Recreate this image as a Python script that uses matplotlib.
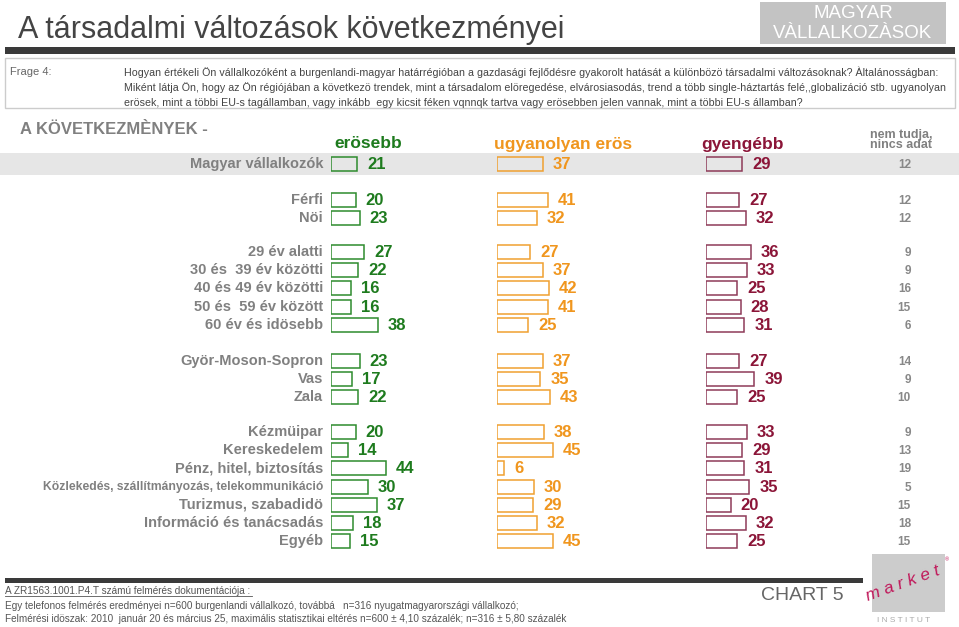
import matplotlib
matplotlib.use("Agg")
import matplotlib.pyplot as plt
from matplotlib.patches import Rectangle

plt.rcParams['font.family'] = ['Liberation Sans', 'DejaVu Sans']

# ---------------- adatok ----------------
labels = ["Magyar vállalkozók",
          "Férfi", "Nöi",
          "29 év alatti", "30 és  39 év közötti", "40 és 49 év közötti",
          "50 és  59 év között", "60 év és idösebb",
          "Györ-Moson-Sopron", "Vas", "Zala",
          "Kézmüipar", "Kereskedelem", "Pénz, hitel, biztosítás",
          "Közlekedés, szállítmányozás, telekommunikáció",
          "Turizmus, szabadidö", "Információ és tanácsadás", "Egyéb"]
erosebb    = [21, 20, 23, 27, 22, 16, 16, 38, 23, 17, 22, 20, 14, 44, 30, 37, 18, 15]
ugyanolyan = [37, 41, 32, 27, 37, 42, 41, 25, 37, 35, 43, 38, 45, 6, 30, 29, 32, 45]
gyengebb   = [29, 27, 32, 36, 33, 25, 28, 31, 27, 39, 25, 33, 29, 31, 35, 20, 32, 25]
nincs      = [12, 12, 12, 9, 9, 16, 15, 6, 14, 9, 10, 9, 13, 19, 5, 15, 18, 15]
groups     = [1, 2, 5, 3, 7]

col_titles = ["erösebb", "ugyanolyan erös", "gyengébb"]

title = "A társadalmi változások következményei"
question = ["Hogyan értékeli Ön vállalkozóként a burgenlandi-magyar határrégióban a gazdasági fejlődésre gyakorolt hatását a különbözö társadalmi változásoknak? Àltalánosságban:",
            "Miként látja Ön, hogy az Ön régiójában a következö trendek, mint a társadalom elöregedése, elvárosiasodás, trend a több single-háztartás felé,,globalizáció stb. ugyanolyan",
            "erösek, mint a többi EU-s tagállamban, vagy inkább  egy kicsit féken vqnnqk tartva vagy erösebben jelen vannak, mint a többi EU-s államban?"]
footer = ["Egy telefonos felmérés eredményei n=600 burgenlandi vállalkozó, továbbá   n=316 nyugatmagyarországi vállalkozó;",
          "Felmérési idöszak: 2010  január 20 és március 25, maximális statisztikai eltérés n=600 ± 4,10 százalék; n=316 ± 5,80 százalék"]

# ---------------- rajz ----------------
W, H = 959, 627
fig = plt.figure(figsize=(W / 100, H / 100), dpi=100)
ax = fig.add_axes([0, 0, 1, 1])
ax.set_xlim(0, W)
ax.set_ylim(H, 0)
ax.axis('off')

GRAY = '#808080'

# fejléc
ax.text(18, 38, title, fontsize=22, color='#444444', va='baseline')
ax.add_patch(Rectangle((760, 2), 186, 42, facecolor='#c3c3c3', edgecolor='none'))
ax.text(853, 14, "MAGYAR", fontsize=13.5, color='white', ha='center', va='center')
ax.text(853, 33, "VÀLLALKOZÀSOK", fontsize=13.5, color='white', ha='center', va='center')
ax.add_patch(Rectangle((5, 47), 950, 7, facecolor='#3a3a3a', edgecolor='none'))

# kérdés doboz
ax.add_patch(Rectangle((5, 58), 950, 50, facecolor='none', edgecolor='#cccccc', linewidth=1))
ax.text(10, 72, "Frage 4:", fontsize=8, color='#666666', va='center')
for i, line in enumerate(question):
    ax.text(124, 72 + i * 15.5, line, fontsize=7.65, color='#444444', va='center')

ax.text(20, 130, "A KÖVETKEZMÈNYEK -", fontsize=12, fontweight='bold', color=GRAY, va='center')

# sorok pozíciója
group_top = [164, 200, 252, 361, 432]
step = 18.2
row_y = []
for top, n in zip(group_top, groups):
    row_y += [top + i * step for i in range(n)]

# kiemelt sáv
ax.add_patch(Rectangle((0, row_y[0] - 11), W, 22, facecolor='#e6e6e6', edgecolor='none'))

for lab, y in zip(labels, row_y):
    fs = 8.7 if len(lab) > 30 else 10.5
    ax.text(323, y, lab, fontsize=fs, fontweight='bold', color=GRAY, ha='right', va='center')

for v, y in zip(nincs, row_y):
    ax.text(911, y + 1, str(v), fontsize=8.5, fontweight='bold', color='#888888', ha='right', va='center')

ax.text(870, 140, "nem tudja,\nnincs adat", fontsize=9, fontweight='bold', color=GRAY,
        ha='left', va='center', linespacing=0.85)

# oszlopok
px_per_pct = 1.24
columns = [(erosebb, 331, '#2e8b2e', '#1e7b1e', 368),
           (ugyanolyan, 497, '#f0a030', '#f0961e', 563),
           (gyengebb, 706, '#8e3a58', '#8b1538', 743)]
for (vals, x0, edge, tcol, hx), head in zip(columns, col_titles):
    bx = fig.add_axes([x0 / W, 0, 60 * px_per_pct / W, 1])
    bx.set_xlim(0, 60)
    bx.set_ylim(H, 0)
    bx.axis('off')
    bx.barh(row_y, vals, height=14, color='none', edgecolor=edge, linewidth=1.1)
    for v, y in zip(vals, row_y):
        bx.text(v + 8, y + 0.5, str(v), fontsize=12, fontweight='bold', color=tcol, ha='left', va='center')
    ax.text(hx, 144, head, fontsize=12.5, fontweight='bold', color=tcol, ha='center', va='center')

# lábléc
ax.add_patch(Rectangle((5, 578), 858, 5, facecolor='#3a3a3a', edgecolor='none'))
ax.text(5, 591, "A ZR1563.1001.P4.T számú felmérés dokumentációja :", fontsize=7.2,
        color='#555555', va='center')
ax.plot([5, 252], [596, 596], color='#555555', linewidth=0.6)
for i, line in enumerate(footer):
    ax.text(5, 606 + i * 13, line, fontsize=7.2, color='#555555', va='center')
ax.text(802, 595, "CHART 5", fontsize=14, color='#666666', ha='center', va='center')

# logó
ax.add_patch(Rectangle((872, 554), 73, 58, facecolor='#cccccc', edgecolor='none'))
ax.text(903, 584, "m a r k e t", fontsize=12.5, fontstyle='italic', color='#c0185a',
        ha='center', va='center', rotation=20)
ax.text(947, 560, "®", fontsize=4, color='#c0185a', ha='center', va='center')
ax.text(904, 621, "I N S T I T U T", fontsize=6, color='#aaaaaa', ha='center', va='center')

fig.savefig("out.png", dpi=100)
